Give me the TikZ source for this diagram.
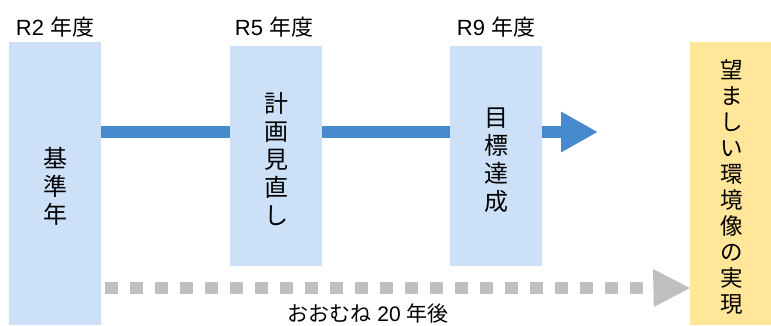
\documentclass[tikz,border=0pt]{standalone}
\usepackage{fontspec}
\setmainfont{Liberation Sans}
\newfontfamily\jp{Noto Sans CJK JP}
\usetikzlibrary{arrows.meta}
\definecolor{boxblue}{HTML}{CCE1F8}
\definecolor{arrowblue}{HTML}{4689CD}
\definecolor{dotgray}{HTML}{BFBFBF}
\definecolor{boxyellow}{HTML}{FFE699}
\begin{document}
\begin{tikzpicture}[x=1pt,y=-1pt,
  stagebox/.style={fill=boxblue, draw=none, inner sep=0pt, minimum width=92pt},
  goalbox/.style={fill=boxyellow, draw=none, inner sep=0pt},
  vtext/.style={align=center, inner sep=0pt, font=\jp\fontsize{24}{28}\selectfont},
  vtextsmall/.style={align=center, inner sep=0pt, font=\jp\fontsize{22.5}{26}\selectfont},
  yearlabel/.style={anchor=base, inner sep=0pt, font=\fontsize{22}{24}\selectfont},
  blueline/.style={draw=arrowblue, line width=12pt, line cap=butt},
  grayline/.style={draw=dotgray, line width=12pt, line cap=butt, dash pattern=on 13pt off 12pt}
]
\useasboundingbox (0,0) rectangle (771,325);
% boxes
\node[stagebox, minimum height=283pt] (b1) at (55,183.5) {};
\node[stagebox, minimum height=220pt] (b2) at (276,156) {};
\node[stagebox, minimum height=220pt] (b3) at (496,156) {};
\node[goalbox, minimum width=81pt, minimum height=283pt] (g) at (730.5,183.5) {};
% vertical texts
\node[vtext] (t1) at (55,186) {基\\準\\年};
\node[vtext] (t2) at (276,159) {計\\画\\見\\直\\し};
\node[vtext] (t3) at (496,160) {目\\標\\達\\成};
\node[vtextsmall] (t4) at (732,187) {望\\ま\\し\\い\\環\\境\\像\\の\\実\\現};
% year labels
\node[yearlabel] (l1) at (55,35) {R2 {\jp 年度}};
\node[yearlabel] (l2) at (274,35) {R5 {\jp 年度}};
\node[yearlabel] (l3) at (496,35) {R9 {\jp 年度}};
% blue arrow
\coordinate (ay) at (0,132);
\coordinate (tip) at (598,132);
\draw[blueline] (b1.east |- ay) -- (b2.west |- ay);
\draw[blueline] (b2.east |- ay) -- (b3.west |- ay);
\draw[blueline, -{Triangle[length=37pt, width=38pt]}] (b3.east |- ay) -- (tip);
% gray dotted arrow
\coordinate (ds) at (105,288);
\coordinate (dm) at (653,288);
\draw[grayline] (ds) -- (dm);
\fill[dotgray] (dm) ++(0,-19) -- (g.west |- ds) -- ++(-36,19) -- cycle;
\node[anchor=base, inner sep=0pt, font=\fontsize{21}{24}\selectfont] (bl) at (368,321) {{\jp おおむね} 20 {\jp 年後}};
\end{tikzpicture}
\end{document}
